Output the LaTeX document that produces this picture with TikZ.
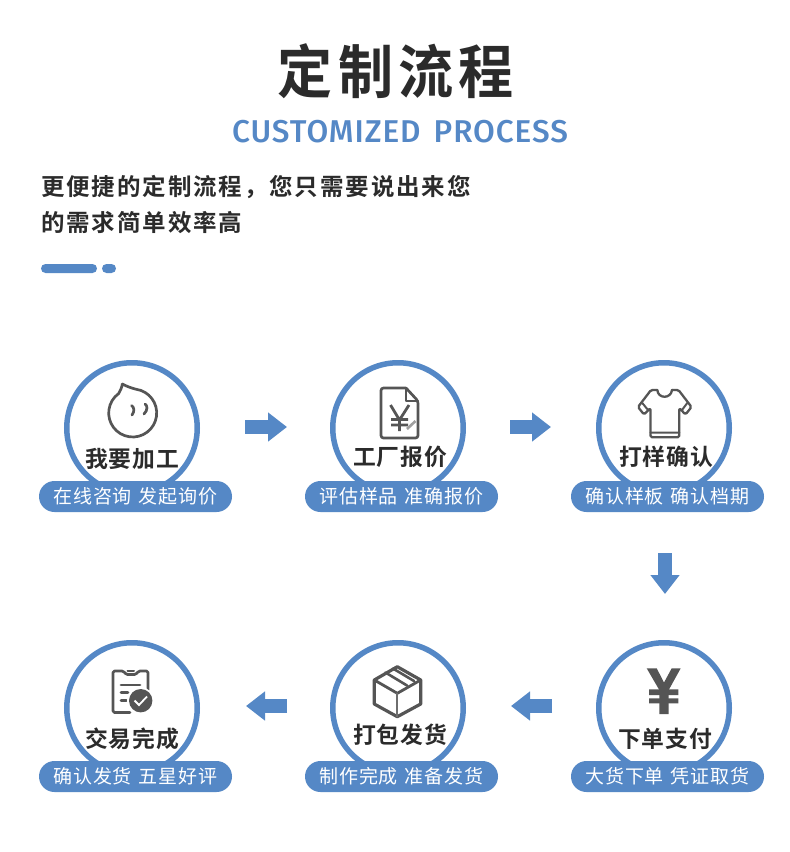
\documentclass[tikz,border=0pt]{standalone}
\usepackage{fontspec}
\usepackage{graphicx}
\usetikzlibrary{arrows.meta}
\newfontfamily\cjkreg{Noto Sans CJK SC}
\newfontfamily\cjkmed{Noto Sans CJK SC Medium}
\newfontfamily\cjkbold{Noto Sans CJK SC Bold}
\newfontfamily\latinsub{Fira Sans Medium}
\definecolor{brandblue}{HTML}{5588C6}
\definecolor{inkdark}{HTML}{2B2B2B}
\definecolor{icongray}{HTML}{555555}
\tikzset{
  ring/.style={circle,draw=brandblue,line width=5.5pt,minimum size=130.5pt,inner sep=0pt,fill=white},
  pill/.style={fill=brandblue,rounded corners=15.5pt,minimum width=193pt,minimum height=31pt,inner sep=0pt,text=white,
    font={\cjkreg\addfontfeatures{LetterSpace=4}\fontsize{19}{19}\selectfont}},
  steplabel/.style={text=inkdark,inner sep=0pt,font={\cjkbold\addfontfeatures{LetterSpace=4}\fontsize{22.8}{23}\selectfont}},
  blockarrow/.style={draw=brandblue,line width=14pt,-{Triangle[length=19pt,width=28pt,fill=brandblue]}},
  iconline/.style={draw=icongray,line width=2.7pt,line join=round,line cap=round},
  bodytext/.style={text=inkdark,inner sep=0pt,anchor=west,font={\cjkbold\addfontfeatures{LetterSpace=8}\fontsize{23.5}{24}\selectfont}},
  barfill/.style={fill=brandblue,rounded corners=4.5pt,inner sep=0pt,minimum height=9pt}
}
\newcommand{\gp}{\hspace{7pt}}
\newcommand{\lw}[1]{\raisebox{-1pt}{#1}}
\begin{document}
\begin{tikzpicture}[x=1pt,y=-1pt]
\useasboundingbox (0,0) rectangle (790,852);
\fill[white] (0,0) rectangle (790,852);

% headings
\node[text=inkdark,inner sep=0pt] (title) at (396,71.5) {\scalebox{0.95}[1]{\cjkbold\addfontfeatures{LetterSpace=9.5}\fontsize{58}{60}\selectfont 定制流程}};
\node[text=brandblue,inner sep=0pt] (subtitle) at (400,132) {\resizebox{336pt}{!}{\latinsub\addfontfeatures{LetterSpace=3}\fontsize{30}{32}\selectfont CUSTOMIZED\hspace{4pt} PROCESS}};
\node[bodytext] (line1) at (41,187) {更便捷的定制流程，您只需要说出来您};
\node[bodytext] (line2) at (41,223) {的需求简单效率高};
\node[barfill,minimum width=56pt] (bar1) at (69,268.5) {};
\node[barfill,minimum width=14pt] (bar2) at (109,268.5) {};

% rings
\node[ring] (c1) at (132,428) {};
\node[ring] (c2) at (398,428) {};
\node[ring] (c3) at (664,428) {};
\node[ring] (c4) at (664,708) {};
\node[ring] (c5) at (398,708) {};
\node[ring] (c6) at (132,708) {};

% pills
\node[pill] (p1) at (135.5,496.5) {\lw{在线咨询\gp 发起询价}};
\node[pill] (p2) at (401.5,496.5) {\lw{评估样品\gp 准确报价}};
\node[pill] (p3) at (667.5,496.5) {\lw{确认样板\gp 确认档期}};
\node[pill] (p4) at (667.5,776.5) {\lw{大货下单\gp 凭证取货}};
\node[pill] (p5) at (401.5,776.5) {\lw{制作完成\gp 准备发货}};
\node[pill] (p6) at (135.5,776.5) {\lw{确认发货\gp 五星好评}};

% step labels
\node[steplabel] (l1) at (132,459) {我要加工};
\node[steplabel] (l2) at (400,457) {工厂报价};
\node[steplabel] (l3) at (666,457) {打样确认};
\node[steplabel] (l4) at (665,739) {下单支付};
\node[steplabel] (l5) at (400,735) {打包发货};
\node[steplabel] (l6) at (132,739) {交易完成};

% arrows
\draw[blockarrow] ([xshift=45pt,yshift=1pt]c1.east) -- ([xshift=-43pt,yshift=1pt]c2.west);
\draw[blockarrow] ([xshift=44pt,yshift=1pt]c2.east) -- ([xshift=-45pt,yshift=1pt]c3.west);
\draw[blockarrow] ([xshift=-2.5pt,yshift=-41pt]p3.south) -- ([xshift=1pt,yshift=46pt]c4.north);
\draw[blockarrow] ([xshift=-44pt,yshift=2pt]c4.west) -- ([xshift=45pt,yshift=2pt]c5.east);
\draw[blockarrow] ([xshift=-43pt,yshift=2pt]c5.west) -- ([xshift=46pt,yshift=2pt]c6.east);

% icon 1: face
\draw[iconline] (122.3,384) .. controls (126,386) and (131,388) .. (136.04,389.23) arc[start angle=82,end angle=-234,radius=24pt] .. controls (120.5,390.5) and (122,387) .. (122.3,384);
\draw[iconline] (131.5,405.5) .. controls (134,407) and (135,411) .. (132,415);
\draw[iconline] (145,404) .. controls (147.5,405.5) and (148,410) .. (144,414);

% icon 2: document
\draw[iconline,rounded corners=2.5pt] (406,388) -- (381,388) -- (381,438) -- (418,438) -- (418,401) -- (406,388);
\draw[iconline,line width=1.8pt] (406,388) -- (406,401) -- (418,401);
\draw[iconline,line cap=butt,line join=miter,line width=2.8pt] (390.5,405) -- (399.5,420) -- (409,405) (399.5,420) -- (399.5,431) (391,419.5) -- (408,419.5) (391,425) -- (408,425);
\draw[draw=gray!75,line width=2.6pt] (407,429) -- (415.5,421);

% icon 3: t-shirt
\draw[iconline,line width=2.3pt,rounded corners=1.5pt] (657.3,390) -- (651,390) -- (638,407) -- (644,414.5) -- (650.5,408) -- (650.5,437.3) -- (679.3,437.3) -- (679.3,408) -- (685.5,414.5) -- (691.5,407) -- (678.5,390) -- (672,390);
\draw[iconline,line width=2.3pt] (672,390) .. controls (671,399) and (658,399) .. (657.3,390);
\draw[iconline,line width=2pt] (650.5,432.7) -- (679.3,432.7) (642.3,403) -- (648,410) (687.3,403) -- (682,410);

% icon 4: clipboard
\draw[iconline,rounded corners=1.5pt] (130,712.5) -- (113,712.5) -- (113,671) -- (123.5,671) -- (126,674.5) -- (136,674.5) -- (138.5,671) -- (148,671) -- (148,690);
\draw[iconline,line width=2pt] (127.5,671) -- (134,671);
\draw[iconline] (121,685) -- (140,685) (121,692.7) -- (128,692.7) (121,700.7) -- (126.5,700.7);
\fill[white] (140.7,700.7) circle (13.5pt);
\fill[icongray] (140.7,700.7) circle (11.7pt);
\draw[draw=white,line width=1.8pt] (134.5,700.5) -- (139,705) -- (147,696.5);

% icon 5: box
\draw[iconline,line width=3.2pt] (397.3,666.7) -- (420.7,680) -- (420.7,704) -- (397.3,716.7) -- (374.3,704) -- (374.3,680) -- cycle;
\draw[iconline,line width=2.8pt] (374.3,680) -- (397.3,693.3) -- (420.7,680);
\draw[iconline,line width=1.8pt,draw=icongray!85] (397.3,693.3) -- (397.3,716.7);
\draw[iconline,line width=2.6pt] (385.5,672.5) -- (407,685.5) (393,668.5) -- (414,681);

% icon 6: yen
\fill[icongray] (646.7,668.3) -- (656.7,668.3) -- (664,682.5) -- (671.7,668.3) -- (680.7,668.3) -- (668.7,690) -- (668.7,714) -- (659.3,714) -- (659.3,690) -- cycle;
\fill[icongray] (649,689.3) rectangle (678.3,695) (649,698.3) rectangle (678.3,703.3);
\end{tikzpicture}
\end{document}
